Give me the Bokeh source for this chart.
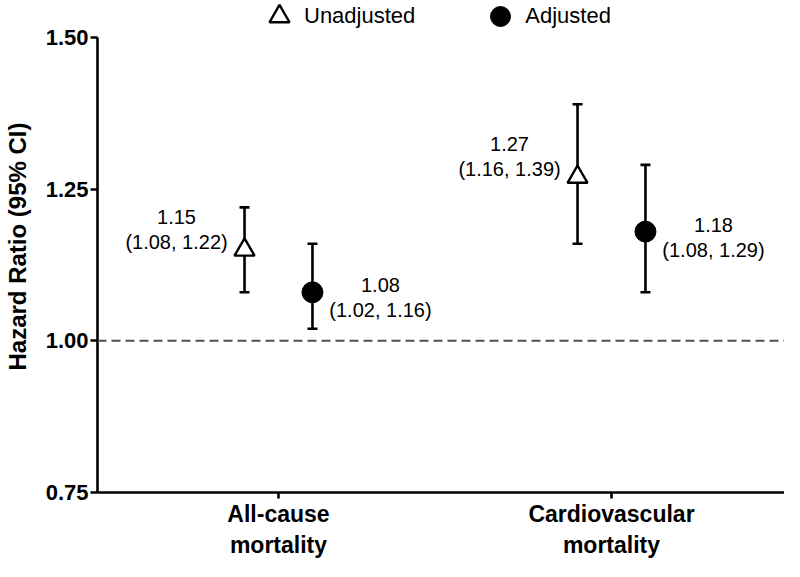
from bokeh.plotting import figure
from bokeh.models import (ColumnDataSource, Range1d, FixedTicker, Whisker, TeeHead,
                          Span, Legend, LegendItem, CustomJSTickFormatter)
from bokeh.core.properties import value
from bokeh.embed import file_html
from bokeh.resources import INLINE

# ---- data ----
categories = ["All-cause\nmortality", "Cardiovascular\nmortality"]
unadj_hr = [1.15, 1.27]
unadj_lo = [1.08, 1.16]
unadj_hi = [1.22, 1.39]
adj_hr = [1.08, 1.18]
adj_lo = [1.02, 1.08]
adj_hi = [1.16, 1.29]
y_ticks = [0.75, 1.00, 1.25, 1.50]

FONT = "Liberation Sans"
cat_pos = [i + 1 for i in range(len(categories))]
dodge = 0.102

H = 561
BOTTOM = 69


def make_src(hr, lo, hi, off):
    return ColumnDataSource(dict(
        x=[c + off for c in cat_pos], hr=hr, lo=lo, hi=hi,
        l1=[f"{v:.2f}" for v in hr],
        l2=[f"({a:.2f}, {b:.2f})" for a, b in zip(lo, hi)],
    ))


src_u = make_src(unadj_hr, unadj_lo, unadj_hi, -dodge)
src_a = make_src(adj_hr, adj_lo, adj_hi, dodge)

# frame spans the whole top; headroom above 1.50 holds the legend
p = figure(width=784, height=H, output_backend="svg", toolbar_location=None,
           x_range=Range1d(0.4565, 2.5195), y_range=Range1d(0.75, 1.561),
           min_border_left=97, min_border_right=0, min_border_top=0,
           min_border_bottom=BOTTOM)
p.outline_line_color = None
p.xgrid.grid_line_color = None
p.ygrid.grid_line_color = None
p.background_fill_color = "white"

# reference line
p.add_layout(Span(location=1.0, dimension="width", line_color="#505050",
                  line_width=2, line_dash="9 5"))

# whiskers
for src in (src_u, src_a):
    w = Whisker(source=src, base="x", lower="lo", upper="hi", dimension="height",
                line_color="black", line_width=2.6,
                upper_head=TeeHead(size=10, line_width=2.6, line_color="black"),
                lower_head=TeeHead(size=10, line_width=2.6, line_color="black"))
    p.add_layout(w)

r_u = p.scatter("x", "hr", source=src_u, marker="triangle", size=20,
                fill_color="white", line_color="black", line_width=2.4)
r_a = p.scatter("x", "hr", source=src_a, marker="circle", size=21,
                fill_color="black", line_color="black", line_width=1)

# value labels
txt = dict(text_font=value(FONT), text_font_size="20px", text_color="black",
           text_align="center", text_baseline="middle")
p.text("x", "hr", text="l1", source=src_u, x_offset=-68, y_offset=-33, **txt)
p.text("x", "hr", text="l2", source=src_u, x_offset=-68, y_offset=-8, **txt)
p.text("x", "hr", text="l1", source=src_a, x_offset=68, y_offset=-7, **txt)
p.text("x", "hr", text="l2", source=src_a, x_offset=68, y_offset=18, **txt)

# axes
p.yaxis.ticker = FixedTicker(ticks=y_ticks)
p.yaxis.bounds = (y_ticks[0], y_ticks[-1])
p.yaxis.formatter = CustomJSTickFormatter(code="return tick.toFixed(2)")
p.yaxis.axis_label = "Hazard Ratio (95% CI)"
p.yaxis.axis_label_text_font = FONT
p.yaxis.axis_label_text_font_style = "bold"
p.yaxis.axis_label_text_font_size = "24px"
p.yaxis.axis_label_text_color = "black"
p.yaxis.axis_label_standoff = 12

p.xaxis.ticker = FixedTicker(ticks=cat_pos)
p.xaxis.major_label_overrides = {c: lab for c, lab in zip(cat_pos, categories)}

for ax in (p.xaxis, p.yaxis):
    ax.axis_line_width = 2.6
    ax.axis_line_color = "black"
    ax.major_tick_line_width = 2.6
    ax.major_tick_line_color = "black"
    ax.major_tick_in = 0
    ax.minor_tick_line_color = None
    ax.major_label_text_font = FONT
    ax.major_label_text_font_style = "bold"
    ax.major_label_text_color = "black"

p.yaxis.major_tick_out = 7
p.yaxis.major_label_text_font_size = "22px"
p.yaxis.major_label_standoff = 2
p.xaxis.major_tick_out = 6
p.xaxis.major_label_text_font_size = "23px"
p.xaxis.major_label_standoff = 2

# legend inside the frame's headroom, item centres ~16px below the top
frame_h = H - BOTTOM
legend = Legend(items=[LegendItem(label="Unadjusted", renderers=[r_u]),
                       LegendItem(label="Adjusted", renderers=[r_a])],
                orientation="horizontal", location=(157, frame_h - 16 - 25),
                glyph_width=50, glyph_height=50, label_standoff=-4, spacing=60,
                padding=0, margin=0, border_line_color=None,
                background_fill_alpha=0,
                label_text_font=FONT, label_text_font_size="22px",
                label_text_color="black")
p.add_layout(legend, "center")

open("out.html", "w").write(file_html(p, INLINE))
